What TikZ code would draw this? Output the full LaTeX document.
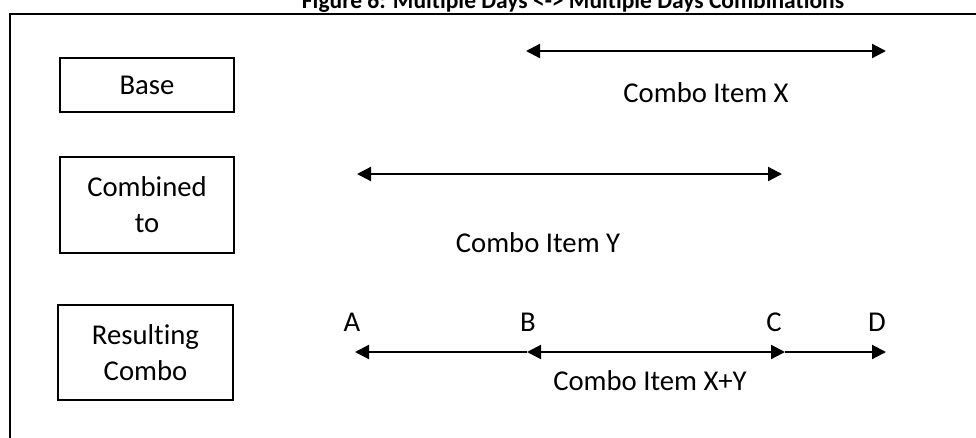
\documentclass[tikz,border=0pt]{standalone}
\usepackage{fontspec}
\setmainfont[Ligatures=NoCommon]{Carlito}
\usetikzlibrary{arrows.meta}
\begin{document}
\begin{tikzpicture}[x=1pt,y=-1pt,
  box/.style={draw, line width=2pt, align=center, inner sep=0pt,
    font=\fontsize{28.7}{36}\selectfont},
  txt/.style={inner sep=0pt, font=\fontsize{28.7}{36}\selectfont},
  conn/.style={line width=2.2pt, -{Triangle[length=14pt,width=14pt]}},
  conn2/.style={line width=2.2pt, {Triangle[length=14pt,width=14pt]}-{Triangle[length=14pt,width=14pt]}},
  conn3/.style={line width=2.2pt, {Triangle[length=14pt,width=14pt]}-}]
\useasboundingbox (0,0) rectangle (976,437);
\clip (0,0) rectangle (976,437);
% title
\node[anchor=base, inner sep=0pt, font=\bfseries\fontsize{23.5}{28}\selectfont] (title) at (573,8) {Figure 6: Multiple Days <-> Multiple Days Combinations};
% frame
\draw[line width=2pt] (9.5,450) -- (9.5,14) -- (990,14);
% boxes
\node[box, minimum width=174pt, minimum height=54pt] (base) at (147,85) {Base};
\node[box, minimum width=174pt, minimum height=96pt] (comb) at (147,205) {Combined\\to};
\node[box, minimum width=175pt, minimum height=95pt] (res) at (145.5,352.5) {Resulting\\Combo};
% row X
\coordinate (x1) at (526,51);
\coordinate (x2) at (886,51);
\draw[conn2] (x1) -- (x2);
\node[txt] (lx) at (706,93) {Combo Item X};
% row Y
\coordinate (y1) at (357,174);
\coordinate (y2) at (782,174);
\draw[conn2] (y1) -- (y2);
\node[txt] (ly) at (538,243) {Combo Item Y};
% result row
\coordinate (pA) at (355,352);
\coordinate (pB) at (527,352);
\coordinate (pC) at (785,352);
\coordinate (pD) at (886,352);
\draw[conn3] (pA) -- (pB);
\draw[conn2] (pB) -- (pC);
\draw[conn] (pC) -- (pD);
\node[txt] (lA) at (352,322) {A};
\node[txt] (lB) at (528,322) {B};
\node[txt] (lC) at (774,322) {C};
\node[txt] (lD) at (877,322) {D};
\node[txt] (lxy) at (650,381) {Combo Item X+Y};
\end{tikzpicture}
\end{document}
